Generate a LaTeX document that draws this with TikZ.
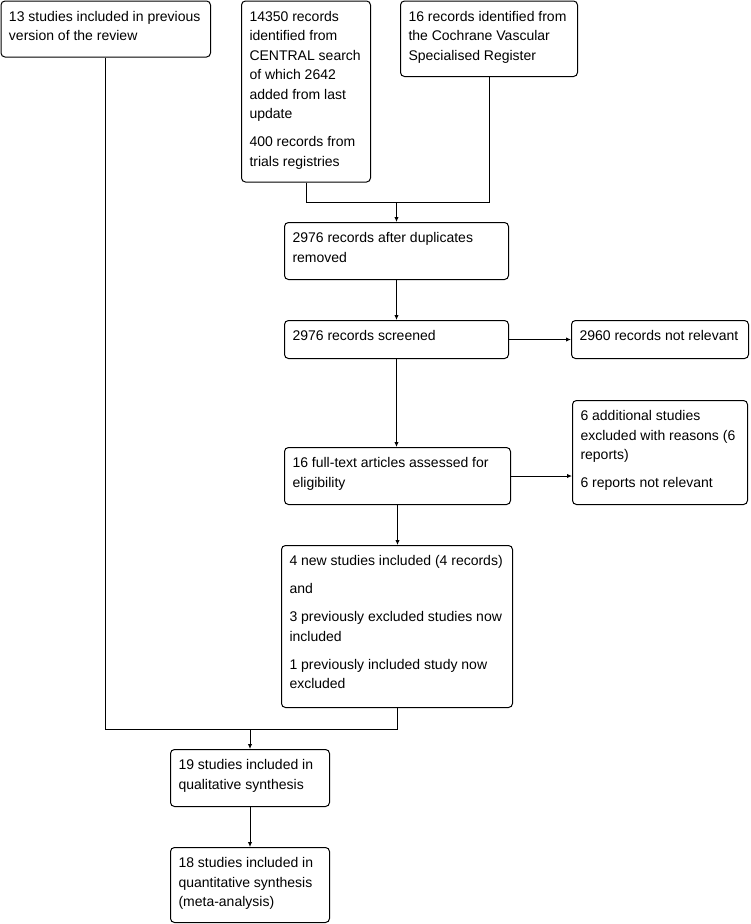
\documentclass[tikz,border=0pt]{standalone}
\usepackage{fontspec}
\setmainfont{Liberation Sans}
\usetikzlibrary{arrows.meta}
\newcommand{\bxt}[3]{\begin{minipage}[t][#2][t]{#1}\raggedright\vspace*{6.5pt}\strut #3\end{minipage}}
\tikzset{
  box/.style={draw=black, line width=1pt, rounded corners=4pt, inner xsep=8pt, inner ysep=0pt,
              anchor=north west, font=\fontsize{14}{19.5}\selectfont},
  link/.style={draw=black, line width=1pt},
  arr/.style={link, -{Latex[length=5pt,width=4.5pt]}}
}
\begin{document}
\begin{tikzpicture}[x=1pt,y=-1pt]
\useasboundingbox (0,0) rectangle (750,924);
\node[box] (A) at (0.5,0.5) {\bxt{193.5pt}{56pt}{13 studies included in previous\\version of the review}};
\node[box] (B) at (241,0.5) {\bxt{113pt}{181pt}{14350 records\\identified from\\CENTRAL search\\of which 2642\\added from last\\update\\[8.5pt]400 records from\\trials registries}};
\node[box] (C) at (400,0.5) {\bxt{161pt}{75.5pt}{16 records identified from\\the Cochrane Vascular\\Specialised Register}};
\node[box] (D) at (284,222) {\bxt{208pt}{57pt}{2976 records after duplicates\\removed}};
\node[box] (E) at (284,320) {\bxt{208pt}{38pt}{2976 records screened}};
\node[box] (F) at (571,320) {\bxt{161pt}{38pt}{2960 records not relevant}};
\node[box] (G) at (284,447) {\bxt{210pt}{57pt}{16 full-text articles assessed for\\eligibility}};
\node[box] (H) at (572,400) {\bxt{159pt}{104pt}{6 additional studies\\excluded with reasons (6\\reports)\\[8.5pt]6 reports not relevant}};
\node[box] (I) at (281,545) {\bxt{215pt}{162pt}{4 new studies included (4 records)\\[8.5pt]and\\[8.5pt]3 previously excluded studies now\\included\\[8.5pt]1 previously included study now\\excluded}};
\node[box] (J) at (170,749) {\bxt{143pt}{57pt}{19 studies included in\\qualitative synthesis}};
\node[box] (K) at (170,847) {\bxt{143pt}{75pt}{18 studies included in\\quantitative synthesis\\(meta-analysis)}};
\coordinate (j1) at (0,202);
\coordinate (j2) at (0,729);
\draw[link] (B.south) -- (B.south |- j1) -- (C.south |- j1) -- (C.south);
\draw[arr] (D.north |- j1) -- (D.north);
\draw[arr] (D.south) -- (E.north);
\draw[arr] (E.east) -- (F.west);
\draw[arr] (E.south) -- (E.south |- G.north);
\draw[arr] (G.east) -- (G.east -| H.west);
\draw[arr] (G.south) -- (G.south |- I.north);
\draw[link] (A.south) -- (A.south |- j2) -- (I.south |- j2) -- (I.south);
\draw[arr] (J.north |- j2) -- (J.north);
\draw[arr] (J.south) -- (K.north);
\end{tikzpicture}
\end{document}
